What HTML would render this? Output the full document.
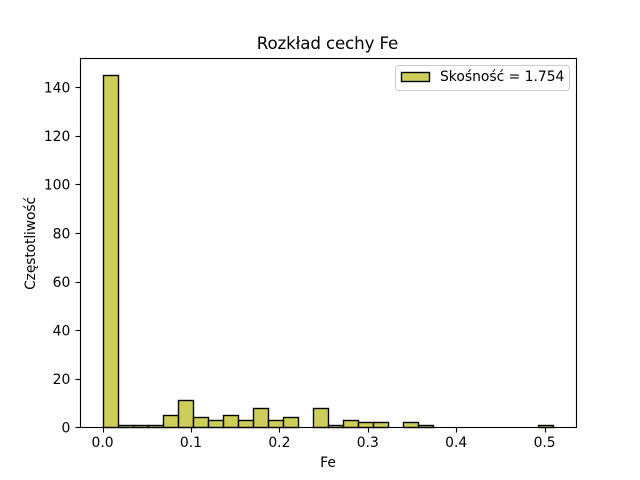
<!DOCTYPE html>
<html lang="pl">
<head>
<meta charset="utf-8">
<title>Rozkład cechy Fe</title>
<style>
html,body{margin:0;padding:0;background:#fff}
svg{display:block}
text{font-family:"DejaVu Sans","Liberation Sans",sans-serif;fill:#000}
</style>
</head>
<body>
<svg id="chart" width="640" height="480" viewBox="0 0 640 480" xmlns="http://www.w3.org/2000/svg">
  <rect x="0" y="0" width="640" height="480" fill="#fff"/>
  <g id="bars"></g>
  <g id="x-ticks"></g>
  <g id="y-ticks"></g>
  <rect x="80.5" y="58.5" width="496" height="369" fill="none" stroke="#000" stroke-width="1.11"/>
  <text x="327.5" y="49" font-size="16.67" text-anchor="middle" textLength="141.5">Rozkład cechy Fe</text>
  <text x="328" y="467" font-size="13.89" text-anchor="middle">Fe</text>
  <text transform="translate(35,243.4) rotate(-90)" font-size="13.89" text-anchor="middle" textLength="93">Częstotliwość</text>
  <g>
    <rect x="395.5" y="65.5" width="174" height="25" rx="3" ry="3" fill="#fff" fill-opacity="0.8" stroke="#ccc" stroke-width="1.11"/>
    <rect x="401.5" y="72.5" width="28" height="9" fill="#bcbd22" fill-opacity="0.75" stroke="#000" stroke-width="1.39"/>
    <text x="440" y="81" font-size="13.89">Skośność = 1.754</text>
  </g>
</svg>
<script>
const binStart = 0;
const binWidth = 0.017;
const counts = [145,1,1,1,5,11,4,3,5,3,8,3,4,0,8,1,3,2,2,0,2,1,0,0,0,0,0,0,0,1];
const xTickValues = [0,0.1,0.2,0.3,0.4,0.5];
const xTickLabels = ["0.0","0.1","0.2","0.3","0.4","0.5"];
const yTickValues = [0,20,40,60,80,100,120,140];
const yTickLabels = ["0","20","40","60","80","100","120","140"];

const NS = "http://www.w3.org/2000/svg";
const plot = {left:80, right:576, top:57.6, bottom:427.2};
const xMinData = binStart;
const xMaxData = binStart + counts.length * binWidth;
const xPad = (xMaxData - xMinData) * 0.05;
const yMaxData = Math.max(...counts) * 1.05;
function xScale(v){
  return plot.left + (v - (xMinData - xPad)) / (xMaxData - xMinData + 2 * xPad) * (plot.right - plot.left);
}
function yScale(v){
  return plot.bottom - v / yMaxData * (plot.bottom - plot.top);
}
function snap(p){
  return Math.floor(p + 0.5) + 0.5;
}
function make(tag, attrs){
  const el = document.createElementNS(NS, tag);
  for (const k in attrs) el.setAttribute(k, attrs[k]);
  return el;
}
const barsGroup = document.getElementById("bars");
counts.forEach(function(c, i){
  const x0 = snap(xScale(binStart + i * binWidth));
  const x1 = snap(xScale(binStart + (i + 1) * binWidth));
  const yTop = snap(yScale(c));
  const yBase = snap(yScale(0));
  const bar = make("rect", {x:x0, y:yTop, width:x1 - x0, height:yBase - yTop, fill:"#bcbd22", "fill-opacity":0.75, stroke:"#000", "stroke-width":1.39});
  
  
  barsGroup.appendChild(bar);
});
const xTicksGroup = document.getElementById("x-ticks");
xTickValues.forEach(function(v, i){
  const x = snap(xScale(v));
  const tick = make("line", {x1:x, x2:x, y1:427.5, y2:432.5, stroke:"#000", "stroke-width":1.11});
  
  
  xTicksGroup.appendChild(tick);
  const label = make("text", {x:xScale(v), y:447, "font-size":13.89, "text-anchor":"middle"});
  
  
  label.textContent = xTickLabels[i];
  xTicksGroup.appendChild(label);
});
const yTicksGroup = document.getElementById("y-ticks");
yTickValues.forEach(function(v, i){
  const y = snap(yScale(v));
  const tick = make("line", {x1:75.5, x2:80.5, y1:y, y2:y, stroke:"#000", "stroke-width":1.11});
  
  
  yTicksGroup.appendChild(tick);
  const label = make("text", {x:70.3, y:yScale(v) + 5.3, "font-size":13.89, "text-anchor":"end"});
  
  
  label.textContent = yTickLabels[i];
  yTicksGroup.appendChild(label);
});
</script>
</body>
</html>
